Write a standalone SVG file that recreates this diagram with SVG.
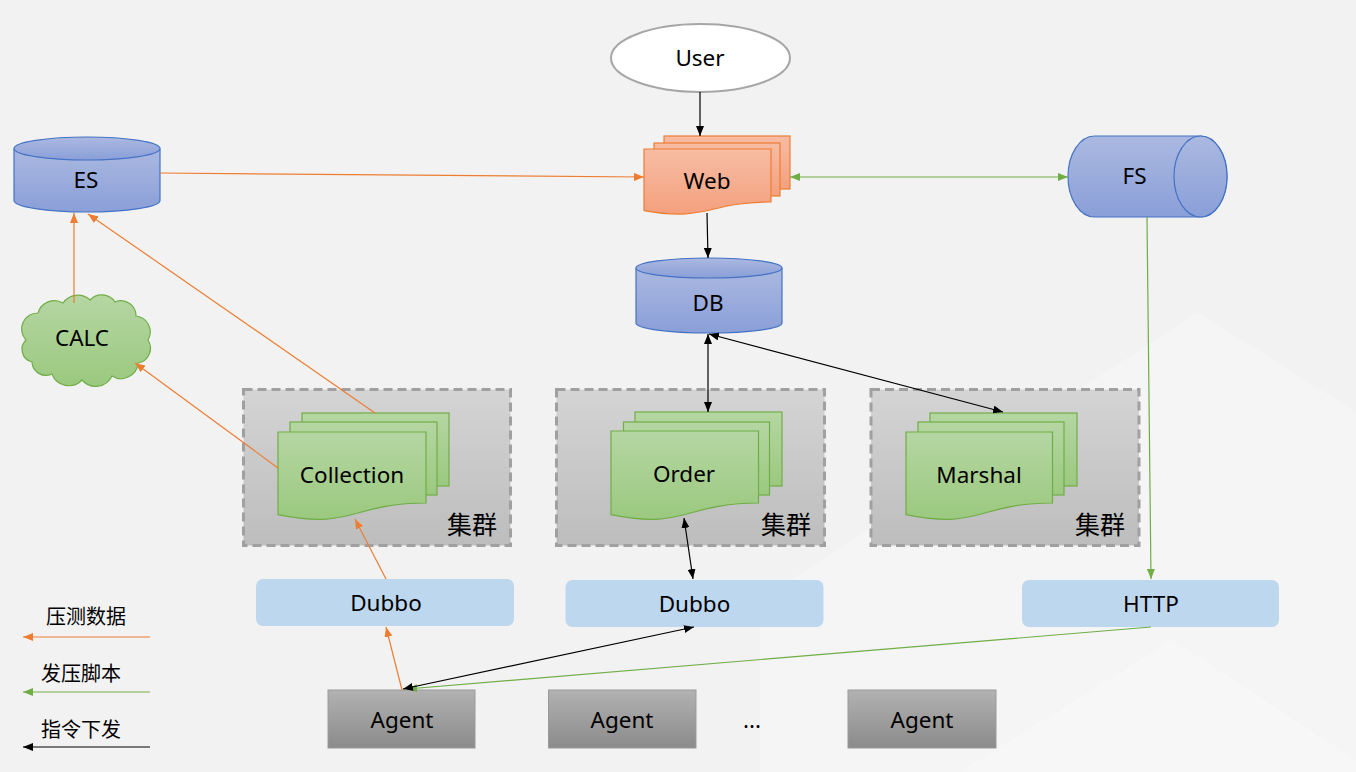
<svg xmlns="http://www.w3.org/2000/svg" width="1356" height="772" viewBox="0 0 1356 772">
<defs>
<linearGradient id="gBlue" x1="0" y1="0" x2="0" y2="1"><stop offset="0" stop-color="#abb9e1"/><stop offset="1" stop-color="#8a9fd8"/></linearGradient>
<linearGradient id="gOrange" x1="0" y1="0" x2="0" y2="1"><stop offset="0" stop-color="#f7bca3"/><stop offset="1" stop-color="#f4a07e"/></linearGradient>
<linearGradient id="gGreen" x1="0" y1="0" x2="0" y2="1"><stop offset="0" stop-color="#b5d6a3"/><stop offset="1" stop-color="#9bc97f"/></linearGradient>
<linearGradient id="gCluster" x1="0" y1="0" x2="0" y2="1"><stop offset="0" stop-color="#d4d4d4"/><stop offset="1" stop-color="#bdbdbd"/></linearGradient>
<linearGradient id="gAgent" x1="0" y1="0" x2="0" y2="1"><stop offset="0" stop-color="#b2b2b2"/><stop offset="1" stop-color="#8b8b8b"/></linearGradient>
<marker id="aBlack" viewBox="0 0 10 8" refX="10" refY="4" markerWidth="10" markerHeight="8" markerUnits="userSpaceOnUse" orient="auto-start-reverse"><path d="M0,0 L10,4 L0,8 z" fill="#000"/></marker>
<marker id="aOrange" viewBox="0 0 10 8" refX="10" refY="4" markerWidth="10" markerHeight="8" markerUnits="userSpaceOnUse" orient="auto-start-reverse"><path d="M0,0 L10,4 L0,8 z" fill="#ed7d31"/></marker>
<marker id="aGreen" viewBox="0 0 10 8" refX="10" refY="4" markerWidth="10" markerHeight="8" markerUnits="userSpaceOnUse" orient="auto-start-reverse"><path d="M0,0 L10,4 L0,8 z" fill="#70ad47"/></marker>
</defs>
<style>
text{font-family:"Noto Sans","Noto Sans CJK SC",sans-serif;fill:#000}
.lbl{font-size:22.5px;text-anchor:middle}
.cjk{font-size:25px;text-anchor:end;font-family:"Noto Sans CJK SC","Noto Sans",sans-serif}
.leg{font-size:20px;font-family:"Noto Sans CJK SC","Noto Sans",sans-serif}
.cyl{fill:url(#gBlue);stroke:#4472c4;stroke-width:1.2}
.web{fill:url(#gOrange);stroke:#ed7d31;stroke-width:1.2}
.doc{fill:url(#gGreen);stroke:#70ad47;stroke-width:1.2}
.cluster{fill:url(#gCluster);stroke:#a0a0a0;stroke-width:3;stroke-dasharray:9 5}
.svc{fill:#bdd7ee}
.agent{fill:url(#gAgent);stroke:#9a9a9a;stroke-width:1}
.ln{fill:none;stroke-width:1.2}
.k{stroke:#000}
.o{stroke:#ed7d31}
.g{stroke:#70ad47}
</style>
<rect width="1356" height="772" fill="#f2f2f2"/>
<path d="M1197,312 L1356,412 L1356,772 L760,772 L760,600 Z" fill="#f5f5f5"/>
<path d="M1172,640 L1356,760 L1356,772 L960,772 Z" fill="#f7f7f7"/>

<g id="user">
<ellipse cx="700.5" cy="58" rx="89.5" ry="34" fill="#fff" stroke="#a6a6a6" stroke-width="2"/>
<text class="lbl" x="700" y="66">User</text>
</g>

<g id="web">
<rect class="web" x="664" y="136" width="126" height="53"/>
<rect class="web" x="654" y="143" width="126" height="53"/>
<path class="web" d="M644,149 H771 V202 C707.5,202 707.5,222 644,210.6 Z"/>
<text class="lbl" x="707" y="188.5">Web</text>
</g>

<g id="es">
<path class="cyl" d="M14,148.5 V200.5 A73,11.5 0 0 0 160,200.5 V148.5"/>
<ellipse class="cyl" cx="87" cy="148.5" rx="73" ry="11.5"/>
<text class="lbl" x="86" y="188">ES</text>
</g>

<g id="db">
<path class="cyl" d="M636,268 V323 A73,10 0 0 0 782,323 V268"/>
<ellipse class="cyl" cx="709" cy="268" rx="73" ry="10"/>
<text class="lbl" x="708" y="311">DB</text>
</g>

<g id="fs">
<path class="cyl" d="M1094.5,136 H1200.5 A26.5,40.5 0 0 1 1200.5,217 H1094.5 A26.5,40.5 0 0 1 1094.5,136 Z"/>
<ellipse class="cyl" cx="1200.5" cy="176.5" rx="26.5" ry="40.5"/>
<text class="lbl" x="1134.5" y="184">FS</text>
</g>

<g id="calc">
<path d="M26,340 A16,16 0 0 1 38,313 A17,17 0 0 1 63,303 A18,18 0 0 1 90,300 A16,16 0 0 1 115,302 A15,15 0 0 1 136,316 A16,16 0 0 1 148,340 A15,15 0 0 1 138,363 A17,17 0 0 1 112,376 A18,18 0 0 1 82,380 A18,18 0 0 1 52,374 A14,14 0 0 1 32,362 A13,13 0 0 1 26,340 Z" fill="url(#gGreen)" stroke="#70ad47" stroke-width="1.2"/>
<text class="lbl" x="82" y="346">CALC</text>
</g>

<g id="collection-cluster">
<rect class="cluster" x="243.5" y="389.5" width="267" height="156"/>
<rect class="doc" x="302" y="413" width="147" height="73"/>
<rect class="doc" x="290" y="422" width="147" height="73"/>
<path class="doc" d="M278,432 H426 V503 C352,503 352,530 278,514.7 Z"/>
<text class="lbl" x="352" y="483">Collection</text>
<text class="cjk" x="497" y="534">集群</text>
</g>

<g id="order-cluster">
<rect class="cluster" x="556.5" y="389.5" width="268" height="156"/>
<rect class="doc" x="635" y="412" width="147" height="74"/>
<rect class="doc" x="623.5" y="422" width="146" height="73"/>
<path class="doc" d="M611,431 H758.5 V503 C684.7,503 684.7,530 611,514.7 Z"/>
<text class="lbl" x="684" y="482">Order</text>
<text class="cjk" x="811" y="534">集群</text>
</g>

<g id="marshal-cluster">
<rect class="cluster" x="871" y="389.5" width="268" height="156"/>
<rect class="doc" x="930" y="413" width="147" height="73"/>
<rect class="doc" x="918" y="422" width="146" height="73"/>
<path class="doc" d="M906,432 H1052.5 V503 C979,503 979,530 906,514.7 Z"/>
<text class="lbl" x="979" y="483">Marshal</text>
<text class="cjk" x="1125" y="534">集群</text>
</g>

<g id="dubbo1">
<rect class="svc" x="256" y="579" width="258" height="47" rx="7"/>
<text class="lbl" x="386" y="611">Dubbo</text>
</g>
<g id="dubbo2">
<rect class="svc" x="565.5" y="580" width="258" height="47" rx="7"/>
<text class="lbl" x="694.5" y="612">Dubbo</text>
</g>
<g id="http">
<rect class="svc" x="1022" y="580" width="257" height="47" rx="7"/>
<text class="lbl" x="1151" y="612">HTTP</text>
</g>

<g id="agent1">
<rect class="agent" x="328" y="690" width="147" height="58"/>
<text class="lbl" x="402" y="728">Agent</text>
</g>
<g id="agent2">
<rect class="agent" x="548.5" y="690" width="147.5" height="58"/>
<text class="lbl" x="622" y="728">Agent</text>
</g>
<text class="lbl" x="752" y="728">...</text>
<g id="agent3">
<rect class="agent" x="848" y="690" width="148" height="58"/>
<text class="lbl" x="922" y="728">Agent</text>
</g>

<g id="connectors">
<line class="ln k" x1="700" y1="92" x2="700" y2="136" marker-end="url(#aBlack)"/>
<line class="ln k" x1="707" y1="213" x2="708" y2="258" marker-end="url(#aBlack)"/>
<line class="ln o" x1="160" y1="173" x2="644" y2="177" marker-end="url(#aOrange)"/>
<line class="ln g" x1="790" y1="177" x2="1068" y2="177" marker-start="url(#aGreen)" marker-end="url(#aGreen)"/>
<line class="ln o" x1="74" y1="303" x2="74" y2="213" marker-end="url(#aOrange)"/>
<line class="ln o" x1="375" y1="413" x2="88" y2="214" marker-end="url(#aOrange)"/>
<line class="ln o" x1="278" y1="468" x2="135" y2="363" marker-end="url(#aOrange)"/>
<line class="ln k" x1="708" y1="334" x2="708" y2="412" marker-start="url(#aBlack)" marker-end="url(#aBlack)"/>
<line class="ln k" x1="709" y1="334" x2="1003" y2="412" marker-start="url(#aBlack)" marker-end="url(#aBlack)"/>
<line class="ln k" x1="684" y1="518" x2="693" y2="579" marker-start="url(#aBlack)" marker-end="url(#aBlack)"/>
<line class="ln o" x1="386" y1="579" x2="355" y2="519" marker-end="url(#aOrange)"/>
<line class="ln o" x1="402" y1="690" x2="386" y2="627" marker-end="url(#aOrange)"/>
<line class="ln g" x1="1147" y1="217" x2="1151" y2="579" marker-end="url(#aGreen)"/>
<line class="ln g" x1="1151" y1="627" x2="407" y2="689" marker-end="url(#aGreen)"/>
<line class="ln k" x1="403" y1="689" x2="694" y2="627" marker-start="url(#aBlack)" marker-end="url(#aBlack)"/>
</g>

<g id="legend">
<text class="leg" x="46" y="624">压测数据</text>
<line class="ln o" x1="150" y1="637" x2="23" y2="637" stroke-width="1.5" marker-end="url(#aOrange)"/>
<text class="leg" x="41" y="681">发压脚本</text>
<line class="ln g" x1="150" y1="692" x2="23" y2="692" stroke-width="1.5" marker-end="url(#aGreen)"/>
<text class="leg" x="41" y="737">指令下发</text>
<line class="ln k" x1="150" y1="747" x2="23" y2="747" stroke-width="1.5" marker-end="url(#aBlack)"/>
</g>
</svg>
